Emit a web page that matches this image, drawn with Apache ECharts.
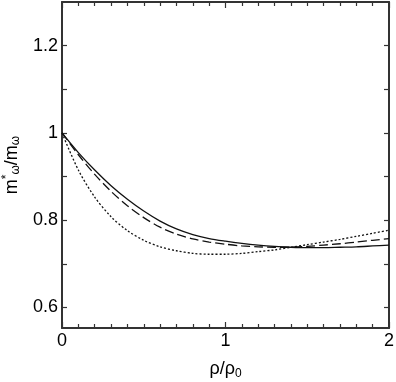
<!DOCTYPE html>
<html>
<head>
<meta charset="utf-8">
<script src="https://cdn.jsdelivr.net/npm/echarts@6/dist/echarts.min.js"></script>
<style>
  html, body { margin: 0; padding: 0; background: #fff; }
  #chart { width: 396px; height: 382px; }
</style>
</head>
<body>
<div id="chart"></div>
<script>
// density rho/rho0
const rho = [0, 0.1, 0.2, 0.3, 0.4, 0.5, 0.6, 0.7, 0.8, 0.9, 1.0,
             1.1, 1.2, 1.3, 1.4, 1.5, 1.6, 1.7, 1.8, 1.9, 2.0];
// m*/m for the three curves
const solidVals = [1.000, 0.955, 0.915, 0.879, 0.848, 0.821, 0.798, 0.780, 0.767, 0.758, 0.752,
                   0.747, 0.743, 0.740, 0.738, 0.737, 0.737, 0.738, 0.739, 0.741, 0.743];
const dashedVals = [1.000, 0.950, 0.905, 0.866, 0.833, 0.806, 0.784, 0.768, 0.757, 0.750, 0.745,
                    0.741, 0.739, 0.738, 0.738, 0.740, 0.743, 0.746, 0.750, 0.754, 0.758];
const dottedVals = [1.000, 0.915, 0.853, 0.808, 0.776, 0.754, 0.739, 0.730, 0.724, 0.722, 0.722,
                    0.724, 0.728, 0.732, 0.738, 0.744, 0.750, 0.756, 0.763, 0.770, 0.777];
const yLabels = [0.6, 0.8, 1, 1.2];
const yTicks = [0.6, 0.7, 0.8, 0.9, 1.0, 1.1, 1.2];

const chart = echarts.init(document.getElementById("chart"));
const axisColor = "#333";
const font = "Liberation Sans";

function xAxisOpt(pos) {
  return {
    type: "value",
    position: pos,
    min: 0,
    max: 2,
    interval: 1,
    axisLine: { show: true, onZero: false, lineStyle: { color: axisColor, width: 2 } },
    axisTick: { show: true, inside: true, length: 6, lineStyle: { color: axisColor, width: 1.2 } },
    minorTick: { show: true, splitNumber: 10, length: 4, lineStyle: { color: axisColor, width: 1.2 } },
    axisLabel: { show: pos === "bottom", color: "#000", fontSize: 18, fontFamily: font, margin: 4 },
    splitLine: { show: false },
    minorSplitLine: { show: false }
  };
}
function yAxisOpt(pos) {
  return {
    type: "value",
    position: pos,
    min: 0.553,
    max: 1.3,
    axisLine: { show: true, onZero: false, lineStyle: { color: axisColor, width: 2 } },
    axisTick: { show: true, inside: true, length: 5, customValues: yTicks, lineStyle: { color: axisColor, width: 1.2 } },
    axisLabel: { show: pos === "left", customValues: yLabels, color: "#000", fontSize: 18, fontFamily: font, margin: 4 },
    splitLine: { show: false }
  };
}

const xb = xAxisOpt("bottom");
xb.name = "{a|ρ/ρ}{s|0}";
xb.nameLocation = "middle";
xb.nameGap = 31;
xb.nameTextStyle = {
  rich: {
    a: { fontSize: 18, fontFamily: font, color: "#000" },
    s: { fontSize: 12, fontFamily: font, color: "#000", padding: [9, 0, 0, 0] }
  }
};
const yl = yAxisOpt("left");
yl.name = "{a|m}{p|*}{s|ω}{a|/m}{s|ω}";
yl.nameLocation = "middle";
yl.nameGap = 30;
yl.nameRotate = 90;
yl.nameTextStyle = {
  rich: {
    a: { fontSize: 18, fontFamily: font, color: "#000" },
    p: { fontSize: 12, fontFamily: font, color: "#000", padding: [0, 0, 10, 0] },
    s: { fontSize: 12, fontFamily: font, color: "#000", padding: [9, 0, 0, 0] }
  }
};

function pairs(vals) {
  return rho.map((x, i) => [x, vals[i]]);
}
const lineBase = { type: "line", showSymbol: false, smooth: 0.3, animation: false };

chart.setOption({
  animation: false,
  grid: { left: 62, right: 7, top: 2, bottom: 54, outerBoundsMode: "none" },
  xAxis: [xb, xAxisOpt("top")],
  yAxis: [yl, yAxisOpt("right")],
  series: [
    Object.assign({}, lineBase, { data: pairs(solidVals), lineStyle: { color: "#111", width: 1.3, type: "solid" } }),
    Object.assign({}, lineBase, { data: pairs(dashedVals), lineStyle: { color: "#111", width: 1.3, type: [9, 4] } }),
    Object.assign({}, lineBase, { data: pairs(dottedVals), lineStyle: { color: "#111", width: 1.3, type: [2, 2] } })
  ]
});
</script>
</body>
</html>
